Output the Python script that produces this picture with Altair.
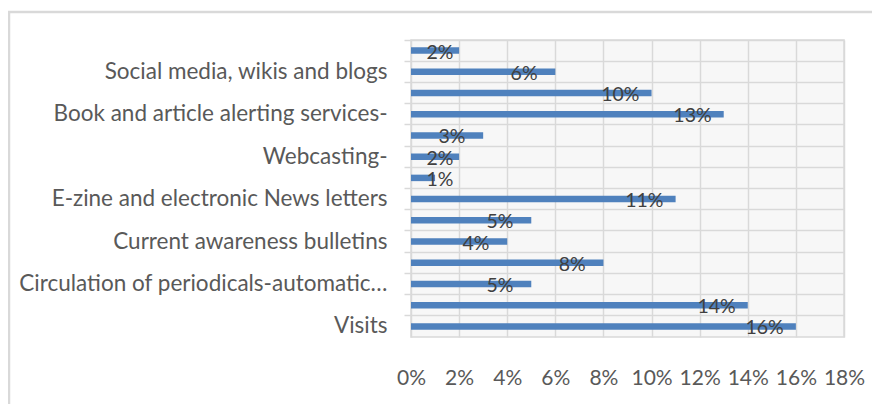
import json
import altair as alt
import pandas as pd

# Data (top to bottom)
categories = ["", "Social media, wikis and blogs", "", "Book and article alerting services-",
              "", "Webcasting-", "", "E-zine and electronic News letters",
              "", "Current awareness bulletins", "", "Circulation of periodicals-automatic\u2026",
              "", "Visits"]
values = [2, 6, 10, 13, 3, 2, 1, 11, 5, 4, 8, 5, 14, 16]
x_ticks = [0, 2, 4, 6, 8, 10, 12, 14, 16, 18]

df = pd.DataFrame({"idx": list(range(len(values))), "value": values})

W, H = 433, 297
FONT = "Lato"
FS = 22.5
XFS = 21
DFS = 19.5

y_enc = alt.Y(
    "idx:O",
    sort="ascending",
    scale=alt.Scale(paddingInner=0, paddingOuter=0),
    axis=alt.Axis(
        title=None,
        labelExpr=f"{json.dumps(categories)}[datum.value]",
        bandPosition=0,
        ticks=True,
        tickSize=7,
        tickColor="#d9d9d9",
        tickWidth=1.5,
        grid=True,
        gridColor="#d9d9d9",
        gridWidth=1.5,
        domain=False,
        labelPadding=17,
        labelFont=FONT,
        labelFontSize=FS,
        labelColor="#595959",
        labelLimit=400,
        labelOverlap=False,
    ),
)

x_enc = alt.X(
    "value:Q",
    scale=alt.Scale(domain=[0, 18], nice=False),
    axis=alt.Axis(
        title=None,
        values=x_ticks,
        labelExpr="datum.value + '%'",
        ticks=False,
        domain=False,
        grid=True,
        gridColor="#d9d9d9",
        gridWidth=1.5,
        labelPadding=30,
        labelFont=FONT,
        labelFontSize=XFS,
        labelColor="#595959",
        labelOverlap=False,
        labelFlush=False,
    ),
)

base = alt.Chart(df)

frame = alt.Chart(pd.DataFrame({"a": [0]})).mark_rect(
    fill="transparent", stroke="#d9d9d9", strokeWidth=2.5
).encode(
    x=alt.value(-402), x2=alt.value(W + 200), y=alt.value(-28), y2=alt.value(H + 200)
)

bars = base.mark_bar(size=6.5, color="#4F81BD").encode(x=x_enc, y=y_enc)

labels = base.transform_calculate(
    lx="max(datum.value - 1.3, 1.2)",
    txt="datum.value + '%'",
).mark_text(
    align="center", baseline="middle", dy=2, font=FONT, fontSize=DFS, color="#404040"
).encode(
    x=alt.X("lx:Q"),
    y=alt.Y("idx:O", sort="ascending"),
    text="txt:N",
)

chart = alt.layer(bars, labels, frame).properties(
    width=W,
    height=H,
    autosize=alt.AutoSizeParams(type="none"),
    padding={"left": 403, "top": 32, "right": 28, "bottom": 67},
    background="white",
).configure_view(stroke="#d9d9d9", strokeWidth=1.5, fill="#f7f7f7")

chart.save("out.html", embed_options={"renderer": "svg", "actions": False})
